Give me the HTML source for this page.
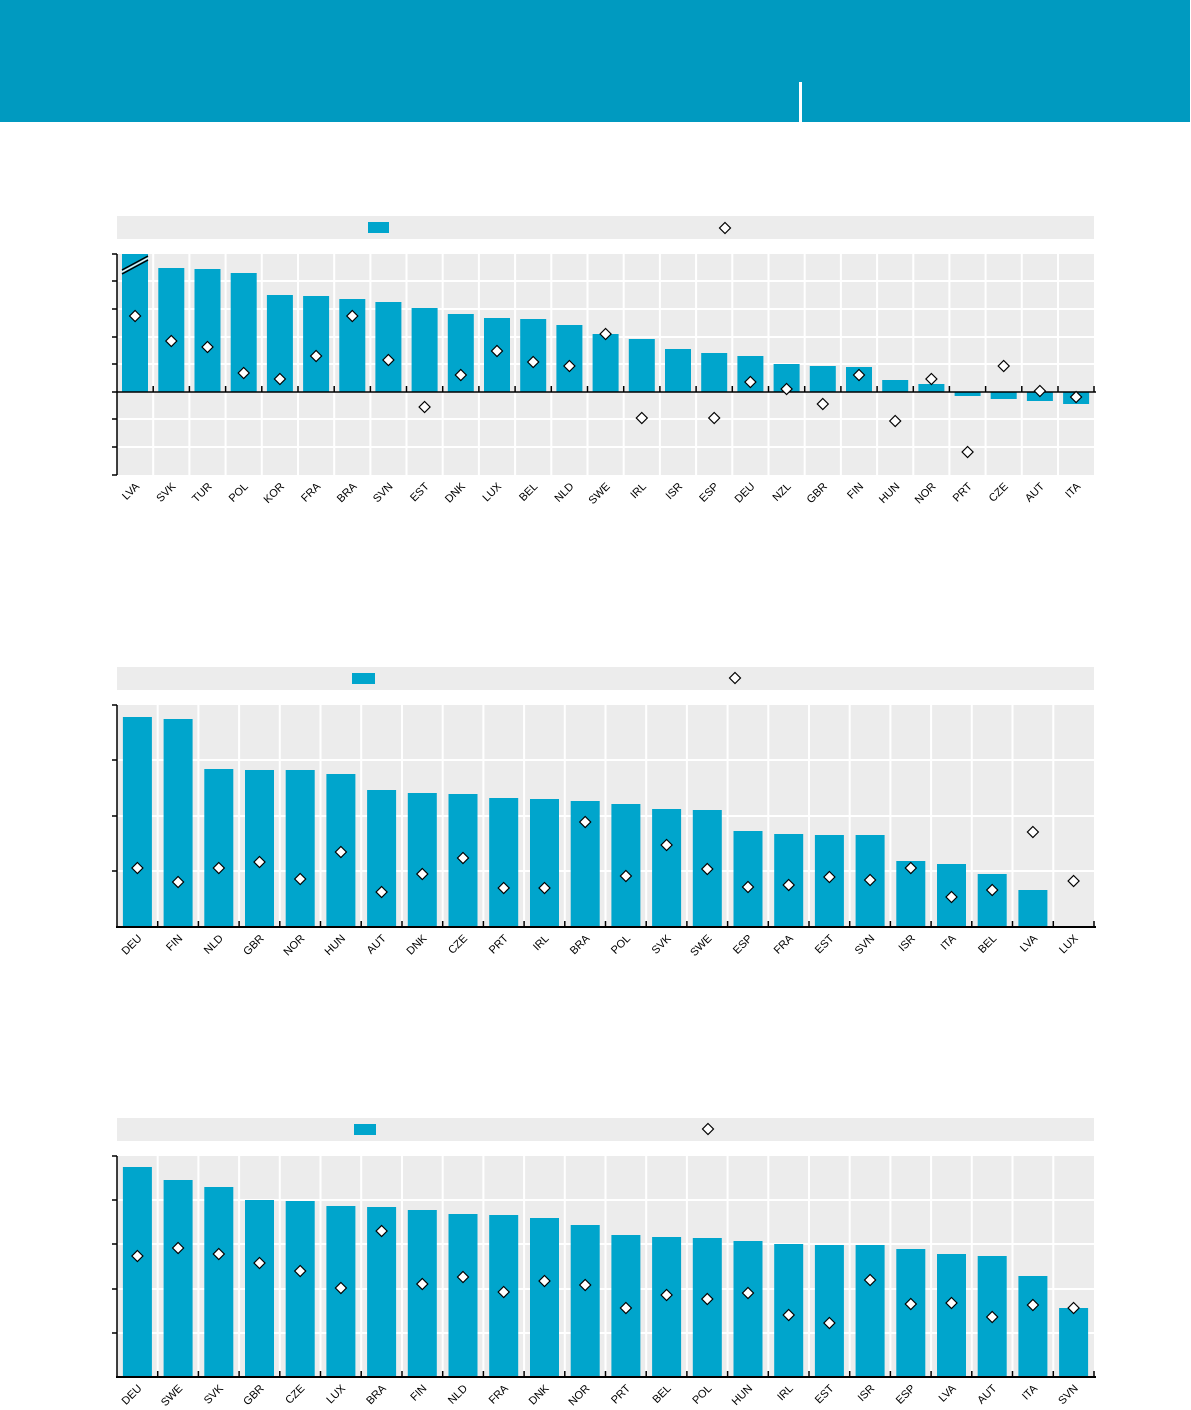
<!DOCTYPE html>
<html><head><meta charset="utf-8"><style>
html,body{margin:0;padding:0;background:#fff}
svg{display:block;font-family:"Liberation Sans",sans-serif;font-size:11px}
</style></head><body>
<svg width="1191" height="1410" viewBox="0 0 1191 1410" xmlns="http://www.w3.org/2000/svg">
<defs>
<path id="d" d="M0 -5.5 L5.5 0 L0 5.5 L-5.5 0Z" fill="#fff" stroke="#000" stroke-width="1.2"/>
</defs>
<rect x="0" y="0" width="1190" height="122" fill="#009ac0"/>
<rect x="799" y="82" width="3" height="40" fill="#fff"/>

<!-- CHART 1 -->
<rect x="117" y="216" width="977" height="23" fill="#ececec"/>
<rect x="368" y="222" width="21" height="11" fill="#00a5cc"/>
<use href="#d" x="725" y="228"/>
<rect x="117" y="254" width="977" height="221" fill="#ececec"/>
<g stroke="#fff" stroke-width="2">
<path d="M117 281H1094M117 309H1094M117 337H1094M117 364H1094M117 419H1094M117 447H1094"/>
<path d="M153.2 254V475M189.4 254V475M225.6 254V475M261.8 254V475M298 254V475M334.2 254V475M370.4 254V475M406.5 254V475M442.7 254V475M478.9 254V475M515.1 254V475M551.3 254V475M587.5 254V475M623.7 254V475M659.9 254V475M696.1 254V475M732.3 254V475M768.5 254V475M804.7 254V475M840.9 254V475M877.1 254V475M913.3 254V475M949.4 254V475M985.6 254V475M1021.8 254V475M1058 254V475"/>
</g>
<g fill="#00a5cc">
<rect x="122" y="254" width="26" height="138"/>
<rect x="158.3" y="268" width="26" height="124"/>
<rect x="194.5" y="269" width="26" height="123"/>
<rect x="230.7" y="273" width="26" height="119"/>
<rect x="266.9" y="295" width="26" height="97"/>
<rect x="303.1" y="296" width="26" height="96"/>
<rect x="339.3" y="299" width="26" height="93"/>
<rect x="375.4" y="302" width="26" height="90"/>
<rect x="411.6" y="308" width="26" height="84"/>
<rect x="447.8" y="314" width="26" height="78"/>
<rect x="484" y="318" width="26" height="74"/>
<rect x="520.2" y="319" width="26" height="73"/>
<rect x="556.4" y="325" width="26" height="67"/>
<rect x="592.6" y="334" width="26" height="58"/>
<rect x="628.8" y="339" width="26" height="53"/>
<rect x="665" y="349" width="26" height="43"/>
<rect x="701.2" y="353" width="26" height="39"/>
<rect x="737.4" y="356" width="26" height="36"/>
<rect x="773.6" y="364" width="26" height="28"/>
<rect x="809.8" y="366" width="26" height="26"/>
<rect x="846" y="367" width="26" height="25"/>
<rect x="882.2" y="380" width="26" height="12"/>
<rect x="918.4" y="384" width="26" height="8"/>
<rect x="954.6" y="392" width="26" height="4"/>
<rect x="990.7" y="392" width="26" height="7"/>
<rect x="1026.9" y="392" width="26" height="9"/>
<rect x="1063.1" y="392" width="26" height="12"/>
</g>
<path d="M122 270L148 256M122 274L148 260" stroke="#000" stroke-width="1.5"/>
<path d="M122 272L148 258" stroke="#ececec" stroke-width="1.5"/>
<g stroke="#000" stroke-width="1.5" fill="none">
<path d="M117 254V475M112 254H117M112 281H117M112 309H117M112 337H117M112 364H117M112 392H117M112 419H117M112 447H117M112 475H117"/>
<path d="M117 392H1096"/>
<path d="M153.2 392V386M189.4 392V386M225.6 392V386M261.8 392V386M298 392V386M334.2 392V386M370.4 392V386M406.5 392V386M442.7 392V386M478.9 392V386M515.1 392V386M551.3 392V386M587.5 392V386M623.7 392V386M659.9 392V386M696.1 392V386M732.3 392V386M768.5 392V386M804.7 392V386M840.9 392V386M877.1 392V386M913.3 392V386M949.4 392V386M985.6 392V386M1021.8 392V386M1058 392V386M1094 392V386"/>
</g>
<use href="#d" x="135.1" y="316"/><use href="#d" x="171.3" y="341"/><use href="#d" x="207.5" y="347"/><use href="#d" x="243.7" y="373"/><use href="#d" x="279.9" y="379"/><use href="#d" x="316.1" y="356"/><use href="#d" x="352.3" y="316"/><use href="#d" x="388.4" y="360"/><use href="#d" x="424.6" y="407"/><use href="#d" x="460.8" y="375"/><use href="#d" x="497" y="351"/><use href="#d" x="533.2" y="362"/><use href="#d" x="569.4" y="366"/><use href="#d" x="605.6" y="334"/><use href="#d" x="641.8" y="418"/><use href="#d" x="714.2" y="418"/><use href="#d" x="750.4" y="382"/><use href="#d" x="786.6" y="389"/><use href="#d" x="822.8" y="404"/><use href="#d" x="859" y="375"/><use href="#d" x="895.2" y="421"/><use href="#d" x="931.4" y="379"/><use href="#d" x="967.6" y="452"/><use href="#d" x="1003.7" y="366"/><use href="#d" x="1039.9" y="391"/><use href="#d" x="1076.1" y="397"/>
<g text-anchor="end">
<text transform="translate(140,487) rotate(-45)">LVA</text>
<text transform="translate(176.3,487) rotate(-45)">SVK</text>
<text transform="translate(212.5,487) rotate(-45)">TUR</text>
<text transform="translate(248.7,487) rotate(-45)">POL</text>
<text transform="translate(284.9,487) rotate(-45)">KOR</text>
<text transform="translate(321.1,487) rotate(-45)">FRA</text>
<text transform="translate(357.3,487) rotate(-45)">BRA</text>
<text transform="translate(393.4,487) rotate(-45)">SVN</text>
<text transform="translate(429.6,487) rotate(-45)">EST</text>
<text transform="translate(465.8,487) rotate(-45)">DNK</text>
<text transform="translate(502,487) rotate(-45)">LUX</text>
<text transform="translate(538.2,487) rotate(-45)">BEL</text>
<text transform="translate(574.4,487) rotate(-45)">NLD</text>
<text transform="translate(610.6,487) rotate(-45)">SWE</text>
<text transform="translate(646.8,487) rotate(-45)">IRL</text>
<text transform="translate(683,487) rotate(-45)">ISR</text>
<text transform="translate(719.2,487) rotate(-45)">ESP</text>
<text transform="translate(755.4,487) rotate(-45)">DEU</text>
<text transform="translate(791.6,487) rotate(-45)">NZL</text>
<text transform="translate(827.8,487) rotate(-45)">GBR</text>
<text transform="translate(864,487) rotate(-45)">FIN</text>
<text transform="translate(900.2,487) rotate(-45)">HUN</text>
<text transform="translate(936.4,487) rotate(-45)">NOR</text>
<text transform="translate(972.6,487) rotate(-45)">PRT</text>
<text transform="translate(1008.7,487) rotate(-45)">CZE</text>
<text transform="translate(1044.9,487) rotate(-45)">AUT</text>
<text transform="translate(1081.1,487) rotate(-45)">ITA</text>
</g>

<!-- CHART 2 -->
<rect x="117" y="667" width="977" height="23" fill="#ececec"/>
<rect x="352" y="673" width="23" height="11" fill="#00a5cc"/>
<use href="#d" x="735" y="678"/>
<rect x="117" y="705" width="977" height="222" fill="#ececec"/>
<g stroke="#fff" stroke-width="2">
<path d="M117 760H1094M117 816H1094M117 871H1094"/>
<path d="M157.7 705V927M198.4 705V927M239.1 705V927M279.8 705V927M320.5 705V927M361.2 705V927M402 705V927M442.7 705V927M483.4 705V927M524.1 705V927M564.8 705V927M605.5 705V927M646.2 705V927M686.9 705V927M727.6 705V927M768.3 705V927M809 705V927M849.7 705V927M890.4 705V927M931.1 705V927M971.8 705V927M1012.5 705V927M1053.3 705V927"/>
</g>
<g fill="#00a5cc">
<rect x="122.9" y="717" width="29" height="210"/>
<rect x="163.6" y="719" width="29" height="208"/>
<rect x="204.3" y="769" width="29" height="158"/>
<rect x="245" y="770" width="29" height="157"/>
<rect x="285.7" y="770" width="29" height="157"/>
<rect x="326.4" y="774" width="29" height="153"/>
<rect x="367.1" y="790" width="29" height="137"/>
<rect x="407.8" y="793" width="29" height="134"/>
<rect x="448.5" y="794" width="29" height="133"/>
<rect x="489.2" y="798" width="29" height="129"/>
<rect x="530" y="799" width="29" height="128"/>
<rect x="570.7" y="801" width="29" height="126"/>
<rect x="611.4" y="804" width="29" height="123"/>
<rect x="652.1" y="809" width="29" height="118"/>
<rect x="692.8" y="810" width="29" height="117"/>
<rect x="733.5" y="831" width="29" height="96"/>
<rect x="774.2" y="834" width="29" height="93"/>
<rect x="814.9" y="835" width="29" height="92"/>
<rect x="855.6" y="835" width="29" height="92"/>
<rect x="896.3" y="861" width="29" height="66"/>
<rect x="937" y="864" width="29" height="63"/>
<rect x="977.7" y="874" width="29" height="53"/>
<rect x="1018.4" y="890" width="29" height="37"/>
</g>
<g stroke="#000" stroke-width="1.5" fill="none">
<path d="M117 705V927M112 705H117M112 760H117M112 816H117M112 871H117"/>
<path d="M116 927H1096" stroke-width="2"/>
<path d="M157.7 927V921M198.4 927V921M239.1 927V921M279.8 927V921M320.5 927V921M361.2 927V921M402 927V921M442.7 927V921M483.4 927V921M524.1 927V921M564.8 927V921M605.5 927V921M646.2 927V921M686.9 927V921M727.6 927V921M768.3 927V921M809 927V921M849.7 927V921M890.4 927V921M931.1 927V921M971.8 927V921M1012.5 927V921M1053.3 927V921M1094 927V921"/>
</g>
<use href="#d" x="137.4" y="868"/><use href="#d" x="178.1" y="882"/><use href="#d" x="218.8" y="868"/><use href="#d" x="259.5" y="862"/><use href="#d" x="300.2" y="879"/><use href="#d" x="340.9" y="852"/><use href="#d" x="381.6" y="892"/><use href="#d" x="422.3" y="874"/><use href="#d" x="463" y="858"/><use href="#d" x="503.7" y="888"/><use href="#d" x="544.5" y="888"/><use href="#d" x="585.2" y="822"/><use href="#d" x="625.9" y="876"/><use href="#d" x="666.6" y="845"/><use href="#d" x="707.3" y="869"/><use href="#d" x="748" y="887"/><use href="#d" x="788.7" y="885"/><use href="#d" x="829.4" y="877"/><use href="#d" x="870.1" y="880"/><use href="#d" x="910.8" y="868"/><use href="#d" x="951.5" y="897"/><use href="#d" x="992.2" y="890"/><use href="#d" x="1032.9" y="832"/><use href="#d" x="1073.6" y="881"/>
<g text-anchor="end">
<text transform="translate(142.4,939) rotate(-45)">DEU</text>
<text transform="translate(183.1,939) rotate(-45)">FIN</text>
<text transform="translate(223.8,939) rotate(-45)">NLD</text>
<text transform="translate(264.5,939) rotate(-45)">GBR</text>
<text transform="translate(305.2,939) rotate(-45)">NOR</text>
<text transform="translate(345.9,939) rotate(-45)">HUN</text>
<text transform="translate(386.6,939) rotate(-45)">AUT</text>
<text transform="translate(427.3,939) rotate(-45)">DNK</text>
<text transform="translate(468,939) rotate(-45)">CZE</text>
<text transform="translate(508.7,939) rotate(-45)">PRT</text>
<text transform="translate(549.5,939) rotate(-45)">IRL</text>
<text transform="translate(590.2,939) rotate(-45)">BRA</text>
<text transform="translate(630.9,939) rotate(-45)">POL</text>
<text transform="translate(671.6,939) rotate(-45)">SVK</text>
<text transform="translate(712.3,939) rotate(-45)">SWE</text>
<text transform="translate(753,939) rotate(-45)">ESP</text>
<text transform="translate(793.7,939) rotate(-45)">FRA</text>
<text transform="translate(834.4,939) rotate(-45)">EST</text>
<text transform="translate(875.1,939) rotate(-45)">SVN</text>
<text transform="translate(915.8,939) rotate(-45)">ISR</text>
<text transform="translate(956.5,939) rotate(-45)">ITA</text>
<text transform="translate(997.2,939) rotate(-45)">BEL</text>
<text transform="translate(1037.9,939) rotate(-45)">LVA</text>
<text transform="translate(1078.6,939) rotate(-45)">LUX</text>
</g>

<!-- CHART 3 -->
<rect x="117" y="1118" width="977" height="23" fill="#ececec"/>
<rect x="354" y="1124" width="22" height="11" fill="#00a5cc"/>
<use href="#d" x="708" y="1129"/>
<rect x="117" y="1156" width="977" height="221" fill="#ececec"/>
<g stroke="#fff" stroke-width="2">
<path d="M117 1200H1094M117 1244H1094M117 1289H1094M117 1333H1094"/>
<path d="M157.7 1156V1377M198.4 1156V1377M239.1 1156V1377M279.8 1156V1377M320.5 1156V1377M361.2 1156V1377M402 1156V1377M442.7 1156V1377M483.4 1156V1377M524.1 1156V1377M564.8 1156V1377M605.5 1156V1377M646.2 1156V1377M686.9 1156V1377M727.6 1156V1377M768.3 1156V1377M809 1156V1377M849.7 1156V1377M890.4 1156V1377M931.1 1156V1377M971.8 1156V1377M1012.5 1156V1377M1053.3 1156V1377"/>
</g>
<g fill="#00a5cc">
<rect x="122.9" y="1167" width="29" height="210"/>
<rect x="163.6" y="1180" width="29" height="197"/>
<rect x="204.3" y="1187" width="29" height="190"/>
<rect x="245" y="1200" width="29" height="177"/>
<rect x="285.7" y="1201" width="29" height="176"/>
<rect x="326.4" y="1206" width="29" height="171"/>
<rect x="367.1" y="1207" width="29" height="170"/>
<rect x="407.8" y="1210" width="29" height="167"/>
<rect x="448.5" y="1214" width="29" height="163"/>
<rect x="489.2" y="1215" width="29" height="162"/>
<rect x="530" y="1218" width="29" height="159"/>
<rect x="570.7" y="1225" width="29" height="152"/>
<rect x="611.4" y="1235" width="29" height="142"/>
<rect x="652.1" y="1237" width="29" height="140"/>
<rect x="692.8" y="1238" width="29" height="139"/>
<rect x="733.5" y="1241" width="29" height="136"/>
<rect x="774.2" y="1244" width="29" height="133"/>
<rect x="814.9" y="1245" width="29" height="132"/>
<rect x="855.6" y="1245" width="29" height="132"/>
<rect x="896.3" y="1249" width="29" height="128"/>
<rect x="937" y="1254" width="29" height="123"/>
<rect x="977.7" y="1256" width="29" height="121"/>
<rect x="1018.4" y="1276" width="29" height="101"/>
<rect x="1059.1" y="1308" width="29" height="69"/>
</g>
<g stroke="#000" stroke-width="1.5" fill="none">
<path d="M117 1156V1377M112 1156H117M112 1200H117M112 1244H117M112 1289H117M112 1333H117"/>
<path d="M116 1377H1096" stroke-width="2"/>
<path d="M157.7 1377V1371M198.4 1377V1371M239.1 1377V1371M279.8 1377V1371M320.5 1377V1371M361.2 1377V1371M402 1377V1371M442.7 1377V1371M483.4 1377V1371M524.1 1377V1371M564.8 1377V1371M605.5 1377V1371M646.2 1377V1371M686.9 1377V1371M727.6 1377V1371M768.3 1377V1371M809 1377V1371M849.7 1377V1371M890.4 1377V1371M931.1 1377V1371M971.8 1377V1371M1012.5 1377V1371M1053.3 1377V1371M1094 1377V1371"/>
</g>
<use href="#d" x="137.4" y="1256"/><use href="#d" x="178.1" y="1248"/><use href="#d" x="218.8" y="1254"/><use href="#d" x="259.5" y="1263"/><use href="#d" x="300.2" y="1271"/><use href="#d" x="340.9" y="1288"/><use href="#d" x="381.6" y="1231"/><use href="#d" x="422.3" y="1284"/><use href="#d" x="463" y="1277"/><use href="#d" x="503.7" y="1292"/><use href="#d" x="544.5" y="1281"/><use href="#d" x="585.2" y="1285"/><use href="#d" x="625.9" y="1308"/><use href="#d" x="666.6" y="1295"/><use href="#d" x="707.3" y="1299"/><use href="#d" x="748" y="1293"/><use href="#d" x="788.7" y="1315"/><use href="#d" x="829.4" y="1323"/><use href="#d" x="870.1" y="1280"/><use href="#d" x="910.8" y="1304"/><use href="#d" x="951.5" y="1303"/><use href="#d" x="992.2" y="1317"/><use href="#d" x="1032.9" y="1305"/><use href="#d" x="1073.6" y="1308"/>
<g text-anchor="end">
<text transform="translate(142.4,1389) rotate(-45)">DEU</text>
<text transform="translate(183.1,1389) rotate(-45)">SWE</text>
<text transform="translate(223.8,1389) rotate(-45)">SVK</text>
<text transform="translate(264.5,1389) rotate(-45)">GBR</text>
<text transform="translate(305.2,1389) rotate(-45)">CZE</text>
<text transform="translate(345.9,1389) rotate(-45)">LUX</text>
<text transform="translate(386.6,1389) rotate(-45)">BRA</text>
<text transform="translate(427.3,1389) rotate(-45)">FIN</text>
<text transform="translate(468,1389) rotate(-45)">NLD</text>
<text transform="translate(508.7,1389) rotate(-45)">FRA</text>
<text transform="translate(549.5,1389) rotate(-45)">DNK</text>
<text transform="translate(590.2,1389) rotate(-45)">NOR</text>
<text transform="translate(630.9,1389) rotate(-45)">PRT</text>
<text transform="translate(671.6,1389) rotate(-45)">BEL</text>
<text transform="translate(712.3,1389) rotate(-45)">POL</text>
<text transform="translate(753,1389) rotate(-45)">HUN</text>
<text transform="translate(793.7,1389) rotate(-45)">IRL</text>
<text transform="translate(834.4,1389) rotate(-45)">EST</text>
<text transform="translate(875.1,1389) rotate(-45)">ISR</text>
<text transform="translate(915.8,1389) rotate(-45)">ESP</text>
<text transform="translate(956.5,1389) rotate(-45)">LVA</text>
<text transform="translate(997.2,1389) rotate(-45)">AUT</text>
<text transform="translate(1037.9,1389) rotate(-45)">ITA</text>
<text transform="translate(1078.6,1389) rotate(-45)">SVN</text>
</g>
</svg>
</body></html>
